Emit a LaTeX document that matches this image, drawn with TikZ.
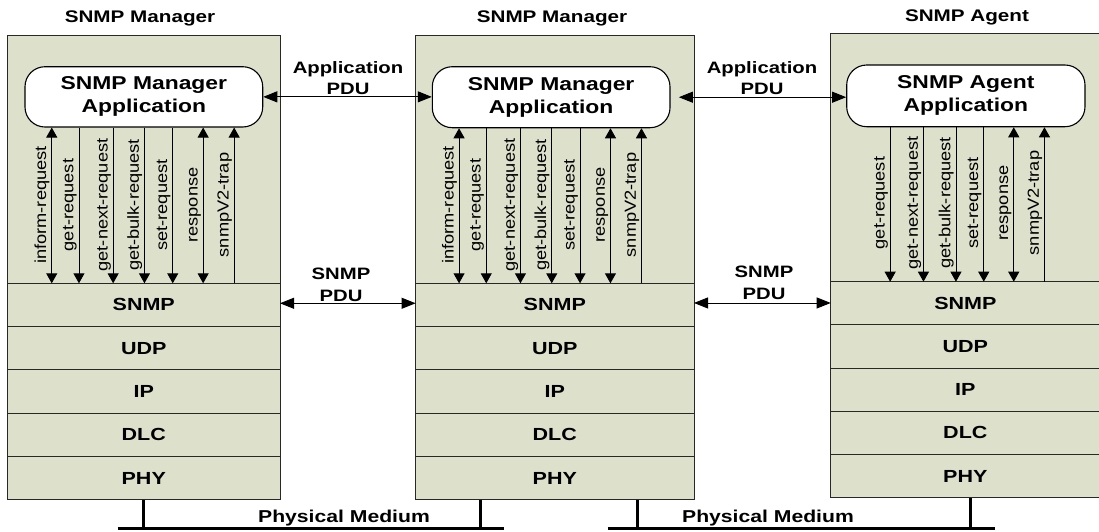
\documentclass[tikz,border=0pt]{standalone}
\usepackage{fontspec}
\setmainfont{Liberation Sans}
\newfontfamily\bw{Liberation Sans}[FakeStretch=1.23]
\newfontfamily\lw{Liberation Sans}[FakeStretch=1.14]
\usetikzlibrary{arrows.meta,calc}
\definecolor{boxfill}{RGB}{221,224,203}
\definecolor{edge}{RGB}{40,40,40}
\begin{document}
\begin{tikzpicture}[x=1pt,y=-1pt,
 stackbox/.style={draw=edge, line width=1pt, fill=boxfill, inner sep=0pt, outer sep=0pt, anchor=north},
 layer/.style={stackbox, minimum height=43.33pt, font=\bw\bfseries\fontsize{17.5}{21}\selectfont},
 app/.style={draw=black, line width=1.1pt, fill=white, rounded corners=20pt, inner sep=0pt, align=center, font=\bw\bfseries\fontsize{18.6}{23}\selectfont},
 title/.style={anchor=base, inner sep=0pt, font=\bw\bfseries\fontsize{16.8}{20}\selectfont},
 pdulbl/.style={align=center, inner sep=0pt, font=\bw\bfseries\fontsize{16.5}{21.5}\selectfont},
 medlbl/.style={anchor=base, inner sep=0pt, font=\bw\bfseries\fontsize{17.2}{20}\selectfont},
 lbl/.style={rotate=90, anchor=south, inner sep=0pt, font=\lw\fontsize{16}{18}\selectfont},
 sig/.style={line width=0.9pt, draw=black},
 arrdn/.style={sig, -{Triangle[length=10pt,width=11pt]}},
 arrup/.style={sig, {Triangle[length=10pt,width=11pt]}-},
 arrbi/.style={sig, {Triangle[length=10pt,width=11pt]}-{Triangle[length=10pt,width=11pt]}},
 pdu/.style={line width=0.9pt, {Triangle[length=14pt,width=11pt]}-{Triangle[length=14pt,width=11pt]}},
 medium/.style={line width=3pt},
]
\useasboundingbox (0,0) rectangle (1099,531);

% titles
\node[title] (tL) at (140,22) {SNMP Manager};
\node[title] (tM) at (552,22) {SNMP Manager};
\node[title] (tR) at (967,21.7) {SNMP Agent};

% left stack
\node[stackbox, minimum width=272.5pt, minimum height=248.3pt] (secL) at (143.75,35) {};
\node[layer, minimum width=272.5pt] (snmpL) at (secL.south) {SNMP};
\node[layer, minimum width=272.5pt] (udpL) at (snmpL.south) {UDP};
\node[layer, minimum width=272.5pt] (ipL) at (udpL.south) {IP};
\node[layer, minimum width=272.5pt] (dlcL) at (ipL.south) {DLC};
\node[layer, minimum width=272.5pt] (phyL) at (dlcL.south) {PHY};

% middle stack
\node[stackbox, minimum width=278.4pt, minimum height=248.3pt] (secM) at (554.8,35) {};
\node[layer, minimum width=278.4pt] (snmpM) at (secM.south) {SNMP};
\node[layer, minimum width=278.4pt] (udpM) at (snmpM.south) {UDP};
\node[layer, minimum width=278.4pt] (ipM) at (udpM.south) {IP};
\node[layer, minimum width=278.4pt] (dlcM) at (ipM.south) {DLC};
\node[layer, minimum width=278.4pt] (phyM) at (dlcM.south) {PHY};

% right stack
\node[stackbox, minimum width=269.3pt, minimum height=248.4pt] (secR) at (965.35,33.3) {};
\node[layer, minimum width=269.3pt, minimum height=43.2pt] (snmpR) at (secR.south) {SNMP};
\node[layer, minimum width=269.3pt, minimum height=43.2pt] (udpR) at (snmpR.south) {UDP};
\node[layer, minimum width=269.3pt, minimum height=43.2pt] (ipR) at (udpR.south) {IP};
\node[layer, minimum width=269.3pt, minimum height=43.2pt] (dlcR) at (ipR.south) {DLC};
\node[layer, minimum width=269.3pt, minimum height=43.2pt] (phyR) at (dlcR.south) {PHY};

% applications
\node[app, minimum width=237.7pt, minimum height=60.3pt] (appL) at (143.85,96.85) {SNMP Manager\\Application};
\node[app, minimum width=237.7pt, minimum height=61pt] (appM) at (551.15,97.2) {SNMP Manager\\Application};
\node[app, minimum width=238.3pt, minimum height=61.7pt] (appR) at (965.85,95.85) {SNMP Agent\\Application};

% PDU exchanges
\draw[pdu] (appL.east) -- (appL.east -| appM.west);
\coordinate (pduTip) at ([xshift=8.3pt]appM.east);
\draw[pdu] (pduTip) -- (pduTip -| appR.west);
\node[pdulbl] (apdu1) at (348,78) {Application\\PDU};
\node[pdulbl] (apdu2) at (762,78) {Application\\PDU};

\coordinate (s1) at ([yshift=1.7pt]snmpL.east);
\draw[pdu] (s1) -- (s1 -| snmpM.west);
\coordinate (s2) at ([yshift=2pt]snmpM.east);
\draw[pdu] (s2) -- (s2 -| snmpR.west);
\node[pdulbl] (spdu1) at (341,285) {SNMP\\PDU};
\node[pdulbl] (spdu2) at (764,282.7) {SNMP\\PDU};

% primitives between application and SNMP layer
\coordinate (lyLM) at (0,205);
\coordinate (lyR) at (0,203);
\foreach \dx/\lab/\typ [count=\i] in {27.3/inform-request/arrbi, 54.5/get-request/arrdn, 88.7/get-next-request/arrdn, 120/get-bulk-request/arrdn, 148.3/set-request/arrdn, 178.7/response/arrbi, 209.7/snmpV2-trap/arrup} {
  \foreach \b in {L,M} {
    \coordinate (a\b\i) at ([xshift=\dx pt]app\b.south west);
    \draw[\typ] (a\b\i) -- (a\b\i |- snmp\b.north);
    \coordinate (t\b\i) at (a\b\i |- lyLM);
    \node[lbl] (lb\b\i) at ([xshift=-2pt]t\b\i) {\lab};
  }
}
\foreach \dx/\lab/\typ [count=\i] in {44/get-request/arrdn, 77.3/get-next-request/arrdn, 109.8/get-bulk-request/arrdn, 137.6/set-request/arrdn, 167.6/response/arrbi, 198.3/snmpV2-trap/arrup} {
  \coordinate (aR\i) at ([xshift=\dx pt]appR.south west);
  \draw[\typ] (aR\i) -- (aR\i |- snmpR.north);
  \coordinate (tR\i) at (aR\i |- lyR);
  \node[lbl] (lbR\i) at ([xshift=-2pt]tR\i) {\lab};
}

% physical medium
\coordinate (m1a) at (117.5,528.3);
\coordinate (m1b) at (503.5,528.3);
\coordinate (m2a) at (607.9,528.3);
\coordinate (m2b) at (995,528.3);
\draw[medium] (m1a) -- (m1b);
\draw[medium] (m2a) -- (m2b);
\draw[medium] (phyL.south) -- (phyL.south |- m1a);
\coordinate (dM1) at ([xshift=65.1pt]phyM.south west);
\draw[medium] (dM1) -- (dM1 |- m1a);
\coordinate (dM2) at ([xshift=222.1pt]phyM.south west);
\draw[medium] (dM2) -- (dM2 |- m2a);
\coordinate (dR) at ([xshift=139.3pt]phyR.south west);
\draw[medium] (dR) -- (dR |- m2a);
\node[medlbl] (pm1) at (344,522.3) {Physical Medium};
\node[medlbl] (pm2) at (768,522.5) {Physical Medium};
\end{tikzpicture}
\end{document}
